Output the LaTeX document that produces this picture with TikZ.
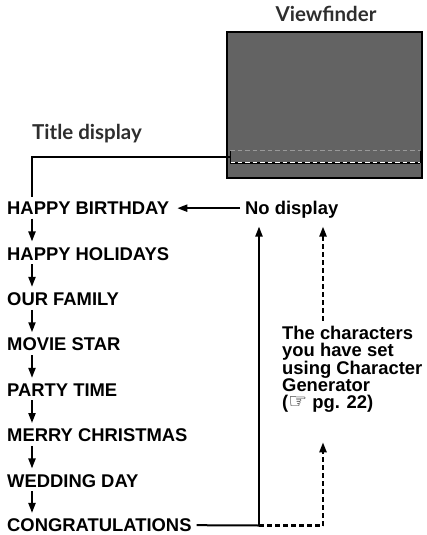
\documentclass[tikz,border=0pt]{standalone}
\usepackage{fontspec}
\setmainfont{Liberation Sans}
\newfontfamily\headfont{Lato}
\newfontfamily\symfont{DejaVu Sans}
\usepackage{tikz}
\usetikzlibrary{arrows.meta,calc,positioning}

\begin{document}
\begin{tikzpicture}[
  x=1pt, y=-1pt,
  item/.style={anchor=base west, inner sep=0pt, font=\fontsize{18.4}{17}\selectfont\bfseries},
  head/.style={inner sep=0pt, text=black!82, font=\fontsize{20.5}{22}\selectfont\headfont\bfseries},
  link/.style={line width=2pt},
  flow/.style={line width=2pt, -{Triangle[length=10pt,width=7pt]}},
  dflow/.style={line width=2.2pt, dash pattern=on 5pt off 3pt}
]
  \useasboundingbox (0,0) rectangle (426,535);
  % viewfinder with the title area
  \node[head, anchor=base] (vfl) at (326,21.7) {Viewfinder};
  \node[draw, line width=1.6pt, fill=black!61, minimum width=195pt, minimum height=146pt, inner sep=0pt] (vf) at (324.5,105) {};
  \node[minimum width=190pt, minimum height=12pt, inner sep=0pt, outer sep=0pt] (area) at (325,156.7) {};
  \draw[black!40, line width=1.2pt, dash pattern=on 4.5pt off 3pt] (area.north west) -- (area.north east);
  \draw[black, line width=2pt] (area.south west) -- (area.south east);
  \draw[white, line width=1.2pt, dash pattern=on 4.5pt off 3pt] (area.south west) -- (area.south east);
  \draw[black, line width=0.9pt] (area.north west) -- (area.south west) (area.north east) -- (area.south east);
  \node[head, anchor=base west] (tdl) at (32,139.3) {Title display};
  % titles
  \node[item] (r1) at (7,214.5) {HAPPY BIRTHDAY};
  \node[item] (r2) at (7,260)   {HAPPY HOLIDAYS};
  \node[item] (r3) at (7,305.4) {OUR FAMILY};
  \node[item] (r4) at (7,350.8) {MOVIE STAR};
  \node[item] (r5) at (7,396.2) {PARTY TIME};
  \node[item] (r6) at (7,441.6) {MERRY CHRISTMAS};
  \node[item] (r7) at (7,487)   {WEDDING DAY};
  \node[item] (r8) at (7,531.5) {CONGRATULATIONS};
  \node[item] (nodisp) at (245,214.5) {No display};
  \node[item, anchor=north west, align=left] (chars) at (282,325.5)
    {The characters\\you have set\\using Character\\Generator\\({\fontsize{21}{17}\selectfont\symfont\mdseries☞} pg. 22)};
  \coordinate (jn) at (259,525.5);
  \coordinate (dc) at (323,525.5);
  % connectors
  \draw[link] (area.west) -| ([xshift=25pt,yshift=4.5pt]r1.north west);
  \foreach \a/\b in {r1/r2,r2/r3,r3/r4,r4/r5,r5/r6,r6/r7,r7/r8}
    \draw[flow, shorten <=4pt, shorten >=5.5pt] ([xshift=25pt]\a.south west) -- ([xshift=25pt]\b.north west);
  \draw[flow, shorten <=5pt, shorten >=8pt] (nodisp.west |- r1) -- (r1.east);
  \draw[link, shorten <=5pt] (r8.east) -- (jn);
  \draw[flow, shorten >=8pt] (jn) -- (jn |- nodisp.south);
  \draw[dflow] (jn) -- (dc);
  \draw[dflow, -{Triangle[length=10pt,width=7pt]}, shorten >=30pt] (dc) -- (dc |- chars.south);
  \draw[dflow, -{Triangle[length=10pt,width=7pt]}, shorten <=5pt, shorten >=8pt] (dc |- chars.north) -- (dc |- nodisp.south);
\end{tikzpicture}
\end{document}
